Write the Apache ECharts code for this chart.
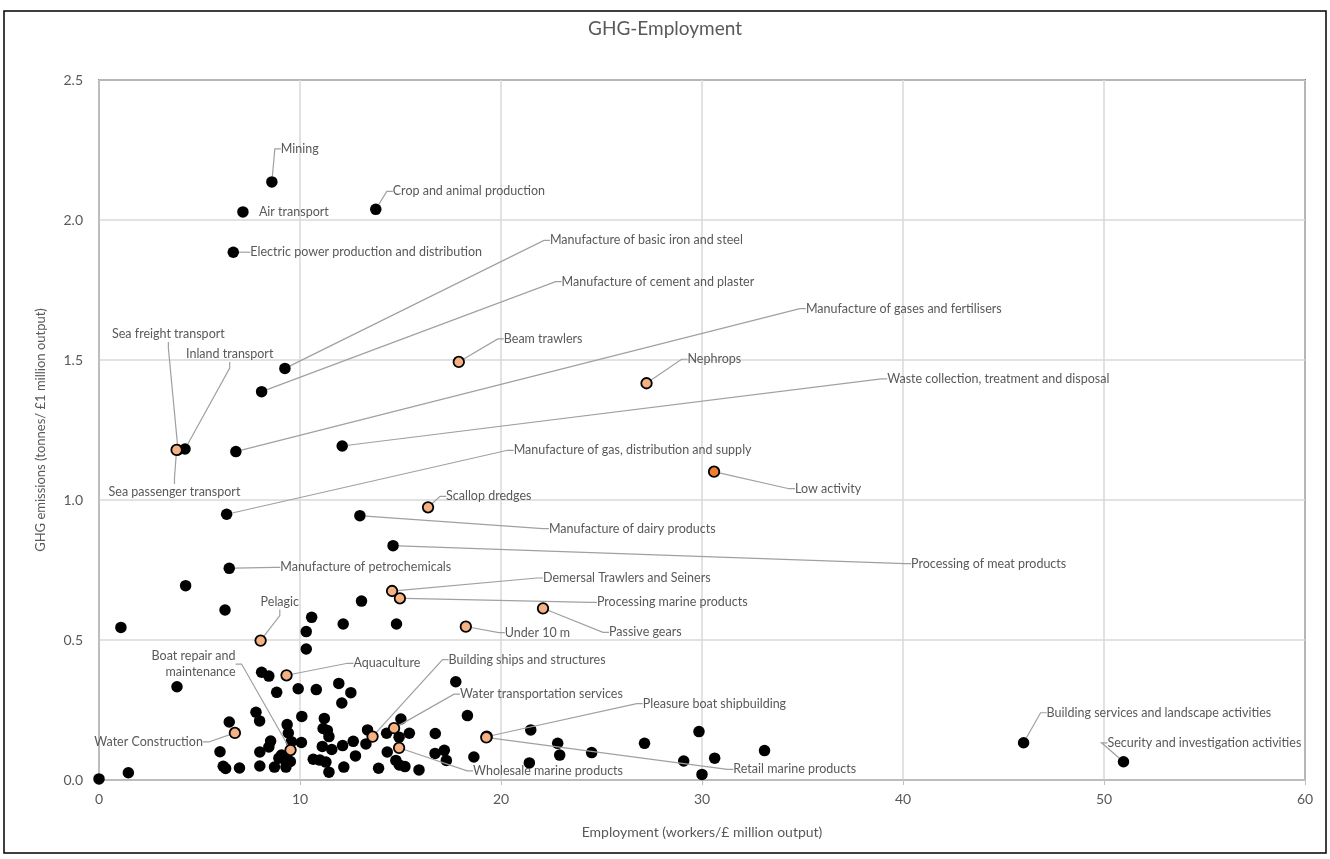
<!DOCTYPE html>
<html>
<head>
<meta charset="utf-8">
<title>GHG-Employment</title>
<script src="https://cdn.jsdelivr.net/npm/echarts@6/dist/echarts.min.js"></script>
<style>
  html, body { margin: 0; padding: 0; background: #ffffff; }
  #chart { width: 1330px; height: 859px; }
</style>
</head>
<body>
<div id="chart"></div>
<script>
// ---- Named sectors of the wider economy (black markers, labelled) ----
const sectorNames = [
  'Mining', 'Air transport', 'Crop and animal production',
  'Electric power production and distribution',
  'Manufacture of basic iron and steel', 'Manufacture of cement and plaster',
  'Manufacture of gases and fertilisers', 'Waste collection, treatment and disposal',
  'Manufacture of gas, distribution and supply', 'Manufacture of dairy products',
  'Processing of meat products', 'Manufacture of petrochemicals',
  'Sea freight transport', 'Inland transport',
  'Building services and landscape activities', 'Security and investigation activities'
];
const sectorEmployment = [8.60, 7.16, 13.77, 6.68, 9.25, 8.09, 6.81, 12.10, 6.35, 12.98, 14.63, 6.48, 3.93, 4.28, 46.0, 50.97];
const sectorGhg        = [2.136, 2.029, 2.038, 1.885, 1.470, 1.387, 1.173, 1.193, 0.949, 0.944, 0.837, 0.756, 1.179, 1.182, 0.133, 0.065];

// ---- Marine sectors (orange markers, labelled) ----
const marineNames = [
  'Sea passenger transport', 'Beam trawlers', 'Nephrops', 'Low activity', 'Scallop dredges',
  'Demersal Trawlers and Seiners', 'Processing marine products', 'Passive gears', 'Under 10 m',
  'Pelagic', 'Aquaculture', 'Boat repair and maintenance', 'Water Construction',
  'Building ships and structures', 'Water transportation services', 'Wholesale marine products',
  'Pleasure boat shipbuilding', 'Retail marine products'
];
const marineEmployment = [3.86, 17.90, 27.24, 30.60, 16.37, 14.58, 14.97, 22.09, 18.25, 8.04, 9.33, 9.53, 6.76, 13.61, 14.68, 14.93, 19.29, 19.27];
const marineGhg        = [1.179, 1.493, 1.417, 1.101, 0.974, 0.675, 0.649, 0.613, 0.548, 0.498, 0.374, 0.107, 0.168, 0.155, 0.185, 0.115, 0.155, 0.152];

// ---- Remaining sectors (black markers, unlabelled) ----
const otherEmployment = [
  4.31, 6.27, 13.06, 10.58, 12.15, 14.80, 1.09, 10.31, 10.31, 17.75,
  8.09, 8.45, 3.88, 8.84, 9.91, 10.81, 11.93, 12.53, 12.08, 18.33,
  7.81, 7.99, 6.48, 10.09, 11.21, 11.15, 11.36, 9.36, 9.42, 13.36,
  14.31, 15.02, 15.44, 14.93, 16.73, 11.44, 8.54, 8.45, 9.57, 10.07,
  11.11, 11.58, 12.12, 12.65, 13.28, 14.34, 16.72, 17.18, 17.28, 18.65,
  6.02, 8.00, 9.08, 8.95, 9.16, 9.33, 9.52, 12.76, 10.66, 10.99,
  11.29, 11.44, 6.18, 6.30, 6.99, 8.00, 8.73, 9.30, 12.18, 13.91,
  14.77, 14.94, 15.22, 15.92, 1.46, 0.00, 21.48, 21.41, 29.85, 22.82,
  22.92, 24.51, 27.14, 33.11, 30.63, 29.09, 30.00
];
const otherGhg = [
  0.694, 0.607, 0.639, 0.581, 0.557, 0.557, 0.545, 0.530, 0.468, 0.351,
  0.385, 0.371, 0.333, 0.313, 0.326, 0.323, 0.345, 0.312, 0.275, 0.230,
  0.242, 0.211, 0.207, 0.227, 0.220, 0.184, 0.177, 0.198, 0.168, 0.179,
  0.167, 0.218, 0.167, 0.153, 0.166, 0.155, 0.139, 0.118, 0.137, 0.134,
  0.120, 0.109, 0.123, 0.138, 0.129, 0.100, 0.095, 0.106, 0.070, 0.082,
  0.101, 0.100, 0.089, 0.078, 0.085, 0.063, 0.066, 0.086, 0.074, 0.071,
  0.064, 0.028, 0.049, 0.041, 0.043, 0.050, 0.046, 0.046, 0.046, 0.042,
  0.070, 0.054, 0.048, 0.036, 0.026, 0.004, 0.179, 0.061, 0.173, 0.131,
  0.089, 0.098, 0.131, 0.105, 0.078, 0.068, 0.020
];

// ---- Axis ticks ----
const xTicks = { min: 0, max: 60, step: 10 };
const yTicks = { min: 0, max: 2.5, step: 0.5 };

// ---- Label placement: offset of the label anchor from the marker centre ----
const labelPlacement = {
  'Mining': [9, -33],
  'Air transport': [16, 0],
  'Crop and animal production': [17, -18],
  'Electric power production and distribution': [17, 0],
  'Manufacture of basic iron and steel': [265, -128],
  'Manufacture of cement and plaster': [300, -110],
  'Manufacture of gases and fertilisers': [570, -143],
  'Waste collection, treatment and disposal': [545, -67],
  'Manufacture of gas, distribution and supply': [287, -64],
  'Manufacture of dairy products': [189, 13],
  'Processing of meat products': [518, 18],
  'Manufacture of petrochemicals': [51, -1],
  'Sea freight transport': [-66, -116],
  'Inland transport': [1, -95],
  'Building services and landscape activities': [23, -30],
  'Security and investigation activities': [-16, -19],
  'Sea passenger transport': [-68, 42],
  'Beam trawlers': [45, -23],
  'Nephrops': [41, -24],
  'Low activity': [81, 17],
  'Scallop dredges': [18, -11],
  'Demersal Trawlers and Seiners': [151, -13],
  'Processing marine products': [197, 4],
  'Passive gears': [66, 24],
  'Under 10 m': [39, 6],
  'Pelagic': [0, -39],
  'Aquaculture': [67, -12],
  'Boat repair and maintenance': [-55, -86, 'right'],
  'Water Construction': [-32, 9, 'right'],
  'Building ships and structures': [76, -77],
  'Water transportation services': [66, -34],
  'Wholesale marine products': [74, 23],
  'Pleasure boat shipbuilding': [156, -33],
  'Retail marine products': [247, 32]
};
const noLeader = new Set(['Air transport']);
const lineBreaks = { 'Boat repair and maintenance': 'Boat repair and\nmaintenance' };
const markerFill = { 'Low activity': '#ed7d31' };

const FONT = 'Lato, "Open Sans", sans-serif';
const TEXT = '#595959';

function toPoints(names, xs, ys) {
  return names.map((n, i) => {
    const item = { name: n, value: [xs[i], ys[i]] };
    if (noLeader.has(n)) item.labelLine = { show: false };
    if (markerFill[n]) item.itemStyle = { color: markerFill[n] };
    return item;
  });
}
const sectorPoints = toPoints(sectorNames, sectorEmployment, sectorGhg);
const marinePoints = toPoints(marineNames, marineEmployment, marineGhg);
const otherPoints = otherEmployment.map((x, i) => [x, otherGhg[i]]);
const namesBySeries = [null, sectorNames, marineNames];

function placeLabel(params) {
  const names = namesBySeries[params.seriesIndex];
  if (!names) return {};
  const p = labelPlacement[names[params.dataIndex]];
  if (!p) return {};
  const cx = params.rect.x + params.rect.width / 2;
  const cy = params.rect.y + params.rect.height / 2;
  return { x: cx + p[0], y: cy + p[1], align: p[2] || 'left', verticalAlign: 'middle' };
}

const labelStyle = {
  show: true,
  position: 'right',
  formatter: (p) => lineBreaks[p.name] || p.name,
  fontFamily: FONT,
  fontSize: 12.5,
  color: TEXT,
  lineHeight: 16,
  align: 'left'
};
const leaderStyle = { show: true, length2: 6, lineStyle: { color: '#a0a0a0', width: 1.2 } };

const chart = echarts.init(document.getElementById('chart'), null, { renderer: 'canvas' });
chart.setOption({
  animation: false,
  backgroundColor: '#ffffff',
  textStyle: { fontFamily: FONT },
  title: {
    text: 'GHG-Employment',
    left: 'center',
    top: 14,
    textStyle: { fontFamily: FONT, fontSize: 19, fontWeight: 'normal', color: TEXT }
  },
  graphic: [{
    type: 'rect',
    shape: { x: 4, y: 11, width: 1322, height: 842 },
    style: { fill: 'none', stroke: '#000000', lineWidth: 1.5 },
    silent: true,
    z: -1
  }],
  grid: {
    left: 99, right: 25, top: 80, bottom: 79,
    show: true, borderColor: '#1a1a1a', borderWidth: 1.5, backgroundColor: 'transparent'
  },
  xAxis: {
    type: 'value',
    min: xTicks.min, max: xTicks.max, interval: xTicks.step,
    name: 'Employment (workers/£ million output)',
    nameLocation: 'middle', nameGap: 45,
    nameTextStyle: { fontFamily: FONT, fontSize: 14, color: TEXT },
    axisLine: { show: true, lineStyle: { color: '#bfbfbf', width: 1.5 } },
    axisTick: { show: true, length: 5, lineStyle: { color: '#bfbfbf' } },
    axisLabel: { fontFamily: FONT, fontSize: 14, color: TEXT, margin: 12 },
    splitLine: { show: true, lineStyle: { color: '#d9d9d9', width: 1.5 } }
  },
  yAxis: {
    type: 'value',
    min: yTicks.min, max: yTicks.max, interval: yTicks.step,
    name: 'GHG emissions (tonnes/ £1 million output)',
    nameLocation: 'middle', nameGap: 52, nameRotate: 90,
    nameTextStyle: { fontFamily: FONT, fontSize: 13, color: TEXT },
    axisLine: { show: true, lineStyle: { color: '#bfbfbf', width: 1.5 } },
    axisTick: { show: false },
    axisLabel: { fontFamily: FONT, fontSize: 14, color: TEXT, margin: 16, formatter: (v) => v.toFixed(1) },
    splitLine: { show: true, lineStyle: { color: '#d9d9d9', width: 1.5 } }
  },
  series: [
    {
      name: 'Other sectors',
      type: 'scatter',
      symbolSize: 11.5,
      itemStyle: { color: '#000000', opacity: 1 },
      data: otherPoints,
      z: 3
    },
    {
      name: 'Economy sectors',
      type: 'scatter',
      symbolSize: 11.5,
      itemStyle: { color: '#000000', opacity: 1 },
      label: labelStyle,
      labelLine: leaderStyle,
      labelLayout: placeLabel,
      data: sectorPoints,
      z: 4
    },
    {
      name: 'Marine sectors',
      type: 'scatter',
      symbolSize: 10.5,
      itemStyle: { color: '#f4b183', borderColor: '#000000', borderWidth: 1.8, opacity: 1 },
      label: labelStyle,
      labelLine: leaderStyle,
      labelLayout: placeLabel,
      data: marinePoints,
      z: 5
    }
  ]
});
</script>
</body>
</html>
